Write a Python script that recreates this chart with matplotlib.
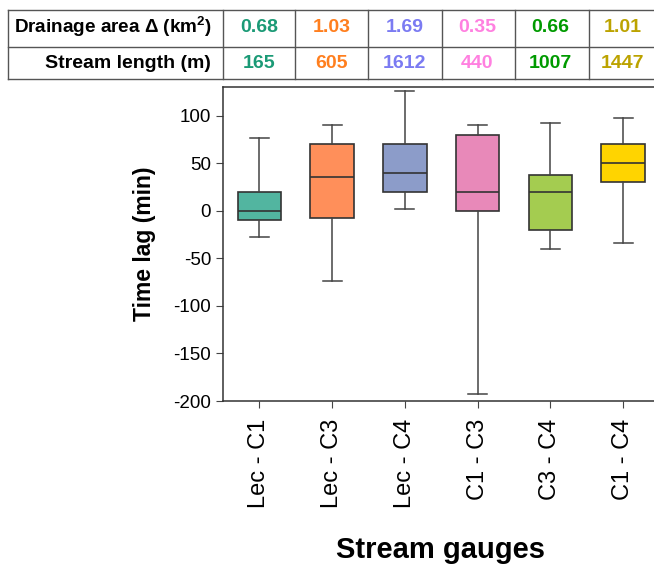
import matplotlib.pyplot as plt
from matplotlib.lines import Line2D

plt.rcParams['font.family'] = ['Liberation Sans', 'DejaVu Sans']
plt.rcParams['axes.unicode_minus'] = False
plt.rcParams['mathtext.fontset'] = 'custom'
plt.rcParams['mathtext.rm'] = 'Liberation Sans'
plt.rcParams['mathtext.bf'] = 'Liberation Sans:bold'

gauges = ['Lec - C1', 'Lec - C3', 'Lec - C4', 'C1 - C3', 'C3 - C4', 'C1 - C4']
whisker_low = [-28, -74, 2, -193, -40, -34]
q1 = [-10, -8, 20, 0, -20, 30]
median = [0, 35, 40, 20, 20, 50]
q3 = [20, 70, 70, 80, 37, 70]
whisker_high = [76, 90, 126, 90, 92, 97]

drainage_area = ['0.68', '1.03', '1.69', '0.35', '0.66', '1.01']
stream_length = ['165', '605', '1612', '440', '1007', '1447']

box_colors = ['#52b5a0', '#ff8f5a', '#8c9cc9', '#e889b9', '#a4cc50', '#ffd400']
text_colors = ['#1b9a76', '#ff7f1e', '#7b7bf2', '#ff80e0', '#009a00', '#bca300']

W, H = 654, 568
fig = plt.figure(figsize=(W / 100, H / 100), dpi=100)

# axes runs slightly past the right edge, as in the original
ax = fig.add_axes([223 / W, 167 / H, (659.5 - 223) / W, (481 - 167) / H])

stats = []
for i in range(len(gauges)):
    stats.append({
        'whislo': whisker_low[i], 'q1': q1[i], 'med': median[i],
        'q3': q3[i], 'whishi': whisker_high[i], 'fliers': [],
    })

bp = ax.bxp(stats, positions=range(1, 7), widths=0.6, capwidths=0.26,
            patch_artist=True, showfliers=False,
            boxprops=dict(edgecolor='#333333', linewidth=1.2),
            medianprops=dict(color='#333333', linewidth=1.2),
            whiskerprops=dict(color='#444444', linewidth=1.1),
            capprops=dict(color='#444444', linewidth=1.1))
for patch, c in zip(bp['boxes'], box_colors):
    patch.set_facecolor(c)

ax.set_xlim(0.5, 6.5)
ax.set_ylim(-200, 130)
ax.set_yticks([100, 50, 0, -50, -100, -150, -200])
ax.set_xticks(range(1, 7))
ax.set_xticklabels(gauges, rotation=90, fontsize=17)
ax.tick_params(axis='y', labelsize=13.5, direction='out', length=5, color='#444444')
ax.tick_params(axis='x', direction='out', length=5, color='#444444', pad=8)
for sp in ax.spines.values():
    sp.set_color('#333333')
    sp.set_linewidth(1.1)

fig.text(144 / W, 1 - 244 / H, 'Time lag (min)', rotation=90, fontsize=16.5,
         fontweight='bold', ha='center', va='center')
fig.text(441 / W, 1 - 550 / H, 'Stream gauges', fontsize=21,
         fontweight='bold', ha='center', va='center')

# table above the plot
line_kw = dict(color='#555555', linewidth=1.0, transform=fig.transFigure)
for y in [9.5, 46.7, 79.3]:
    fig.add_artist(Line2D([8 / W, 1], [1 - y / H, 1 - y / H], **line_kw))
col_edges = [8, 223, 295, 368, 442, 515, 589]
for x in col_edges:
    fig.add_artist(Line2D([x / W, x / W], [1 - 9.5 / H, 1 - 79.3 / H], **line_kw))

fig.text(212 / W, 1 - 27 / H, r'Drainage area Δ (km$^{\mathbf{2}}$)', fontsize=13.6,
         fontweight='bold', ha='right', va='center')
fig.text(211 / W, 1 - 63 / H, 'Stream length (m)', fontsize=14,
         fontweight='bold', ha='right', va='center')
for i in range(len(gauges)):
    cx = 259 + 72.75 * i
    fig.text(cx / W, 1 - 28 / H, drainage_area[i], fontsize=14, fontweight='bold',
             color=text_colors[i], ha='center', va='center')
    fig.text(cx / W, 1 - 63 / H, stream_length[i], fontsize=14, fontweight='bold',
             color=text_colors[i], ha='center', va='center')

fig.savefig('out.png', dpi=100)
